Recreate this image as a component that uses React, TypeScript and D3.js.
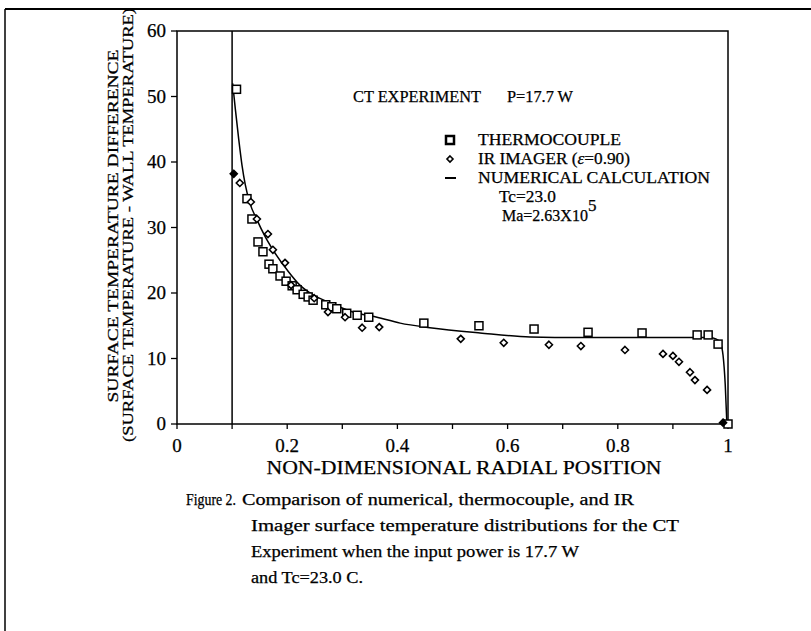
import React from 'react';
import * as d3 from 'd3';

// numerical calculation curve [position, temperature difference]
const numericalX = [0.101, 0.106, 0.112, 0.118, 0.124, 0.132, 0.145, 0.16, 0.174, 0.2, 0.223, 0.247, 0.278, 0.319, 0.363, 0.405, 0.459, 0.55, 0.641, 0.731, 0.85, 0.965, 0.978, 0.986, 0.991, 0.995, 0.998];
const numericalY = [52, 48, 43.5, 39.5, 36.5, 33.8, 31.2, 28.6, 26.6, 23.5, 21.2, 19.7, 18.5, 17.1, 16.3, 15.4, 14.7, 13.9, 13.3, 13.2, 13.2, 13.2, 13.0, 12.4, 10.5, 6, 0];

const thermoX = [0.108, 0.127, 0.136, 0.147, 0.156, 0.167, 0.174, 0.187, 0.198, 0.209, 0.218, 0.229, 0.238, 0.247, 0.27, 0.281, 0.29, 0.308, 0.327, 0.348, 0.448, 0.548, 0.648, 0.746, 0.844, 0.944, 0.964, 0.982, 1.0];
const thermoY = [51.1, 34.4, 31.3, 27.8, 26.3, 24.4, 23.7, 22.6, 21.8, 21.1, 20.5, 19.8, 19.4, 18.9, 18.2, 17.9, 17.6, 16.9, 16.6, 16.3, 15.4, 15.0, 14.5, 14.0, 13.9, 13.6, 13.6, 12.2, 0];

const irX = [0.103, 0.114, 0.134, 0.145, 0.165, 0.174, 0.196, 0.207, 0.249, 0.274, 0.305, 0.336, 0.367, 0.515, 0.593, 0.675, 0.733, 0.813, 0.882, 0.9, 0.911, 0.931, 0.94, 0.962, 0.991];
const irY = [38.2, 36.8, 33.9, 31.3, 29.0, 26.6, 24.6, 21.2, 19.2, 17.1, 16.3, 14.7, 14.8, 13.0, 12.4, 12.1, 11.9, 11.3, 10.7, 10.4, 9.5, 7.9, 6.7, 5.2, 0.2];

const xTicks = [0, 0.2, 0.4, 0.6, 0.8, 1];
const xMinor = [0, 0.1, 0.2, 0.3, 0.4, 0.5, 0.6, 0.7, 0.8, 0.9, 1];
const yTicks = [0, 10, 20, 30, 40, 50, 60];
const innerRadius = 0.1;

const captionLines = [
  'Imager surface temperature distributions for the CT',
  'Experiment when the input power is 17.7 W',
  'and Tc=23.0 C.',
];
const captionWidths = [428, 328, 112];

const serif = '"Liberation Serif", "DejaVu Serif", serif';

export default function App() {
  const x = d3.scaleLinear().domain([0, 1]).range([177, 728]);
  const y = d3.scaleLinear().domain([0, 60]).range([424, 31]);

  const curve = d3.line<number>()
    .x((_, i) => x(numericalX[i]))
    .y(d => y(d))
    .curve(d3.curveMonotoneX)(numericalY) || '';

  const diamond = (cx: number, cy: number, r: number) =>
    `M${cx},${cy - r}L${cx + r},${cy}L${cx},${cy + r}L${cx - r},${cy}Z`;

  const ink = { stroke: '#000', strokeWidth: 0.25 };

  return (
    <div style={{ position: 'fixed', left: 0, top: 0 }}>
      <svg width={811} height={631} style={{ display: 'block', background: '#fff' }} fontFamily={serif}>
        {/* figure frame */}
        <line x1={5} x2={811} y1={9} y2={9} stroke="#000" strokeWidth={2} />
        <line x1={5} x2={5} y1={9} y2={631} stroke="#000" strokeWidth={1.5} />

        {/* plot box */}
        <rect x={x(0)} y={y(60)} width={x(1) - x(0)} height={y(0) - y(60)} fill="none" stroke="#000" strokeWidth={1.5} />
        {xMinor.map(t => (
          <line key={t} x1={x(t)} x2={x(t)} y1={y(0)} y2={y(0) + 5} stroke="#000" strokeWidth={1.3} />
        ))}
        {yTicks.map(t => (
          <line key={t} x1={x(0) - 6} x2={x(0)} y1={y(t)} y2={y(t)} stroke="#000" strokeWidth={1.3} />
        ))}
        {xTicks.map(t => (
          <text key={t} x={x(t)} y={y(0) + 28} textAnchor="middle" fontSize={19} {...ink}>{t}</text>
        ))}
        {yTicks.map(t => (
          <text key={t} x={x(0) - 11} y={y(t) + 6} textAnchor="end" fontSize={19} {...ink}>{t}</text>
        ))}

        {/* inner wall */}
        <line x1={x(innerRadius)} x2={x(innerRadius)} y1={y(0)} y2={y(60)} stroke="#000" strokeWidth={1.5} />

        <path d={curve} fill="none" stroke="#000" strokeWidth={1.5} />

        {thermoX.map((v, i) => (
          <rect key={i} x={x(v) - 4} y={y(thermoY[i]) - 4} width={8} height={8} fill="#fff" stroke="#000" strokeWidth={1.5} />
        ))}
        {irX.map((v, i) => (
          <path key={i} d={diamond(x(v), y(irY[i]), 3.5)} fill={i === 0 || i === irX.length - 1 ? '#000' : '#fff'} stroke="#000" strokeWidth={1.6} />
        ))}

        {/* annotation and legend */}
        <text x={353} y={102} fontSize={17} textLength={128} lengthAdjust="spacingAndGlyphs" {...ink}>CT EXPERIMENT</text>
        <text x={507} y={102} fontSize={17} textLength={66} lengthAdjust="spacingAndGlyphs" {...ink}>P=17.7 W</text>

        <rect x={446} y={136} width={8} height={8} fill="#fff" stroke="#000" strokeWidth={2.5} />
        <path d={diamond(450, 159, 3)} fill="#fff" stroke="#000" strokeWidth={1.6} />
        <line x1={445} x2={456} y1={178} y2={178} stroke="#000" strokeWidth={2} />
        <text x={478} y={145} fontSize={16} textLength={143} lengthAdjust="spacingAndGlyphs" {...ink}>THERMOCOUPLE</text>
        <text x={478} y={164} fontSize={16} textLength={152} lengthAdjust="spacingAndGlyphs" {...ink}>IR IMAGER  (<tspan fontStyle="italic">ε</tspan>=0.90)</text>
        <text x={478} y={183} fontSize={16} textLength={232} lengthAdjust="spacingAndGlyphs" {...ink}>NUMERICAL CALCULATION</text>
        <text x={499} y={202} fontSize={16} textLength={57} lengthAdjust="spacingAndGlyphs" {...ink}>Tc=23.0</text>
        <text x={502} y={221} fontSize={16} {...ink}>Ma=2.63X10<tspan dy={-10} fontSize={17}>5</tspan></text>

        {/* axis titles */}
        <text x={464} y={474} textAnchor="middle" fontSize={19} textLength={395} lengthAdjust="spacingAndGlyphs" {...ink}>NON-DIMENSIONAL RADIAL POSITION</text>
        <text transform="translate(118,226) rotate(-90)" textAnchor="middle" fontSize={15} textLength={353} lengthAdjust="spacingAndGlyphs" {...ink}>SURFACE TEMPERATURE DIFFERENCE</text>
        <text transform="translate(133,225) rotate(-90)" textAnchor="middle" fontSize={15} textLength={434} lengthAdjust="spacingAndGlyphs" {...ink}>(SURFACE TEMPERATURE - WALL TEMPERATURE)</text>

        {/* caption */}
        <text x={186} y={505} fontSize={16} textLength={50} lengthAdjust="spacingAndGlyphs" {...ink}>Figure 2.</text>
        <text x={242} y={505} fontSize={16} textLength={392} lengthAdjust="spacingAndGlyphs" {...ink}>Comparison of numerical, thermocouple, and IR</text>
        {captionLines.map((s, i) => (
          <text key={i} x={251} y={531 + i * 26} fontSize={16} textLength={captionWidths[i]} lengthAdjust="spacingAndGlyphs" {...ink}>{s}</text>
        ))}
      </svg>
    </div>
  );
}
